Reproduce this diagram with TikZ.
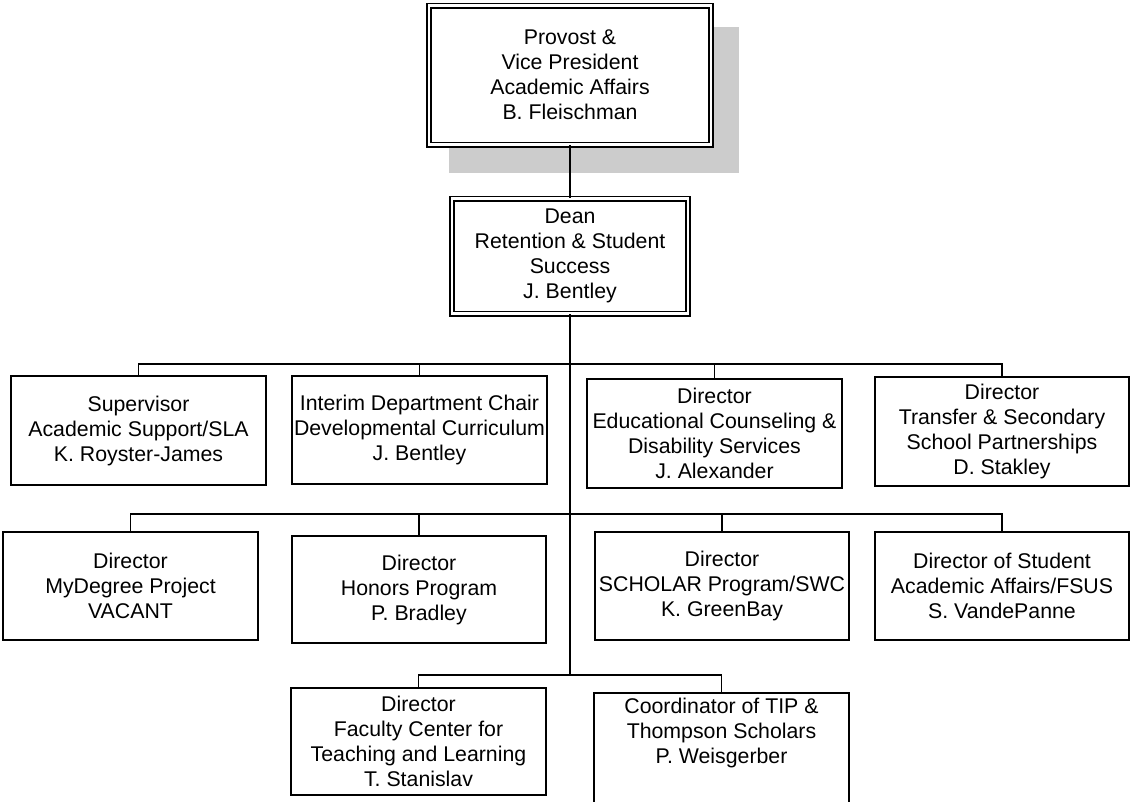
\documentclass[tikz,border=0pt]{standalone}
\usepackage{fontspec}
\setmainfont{Liberation Sans}
\definecolor{shadegray}{RGB}{204,204,204}
\begin{document}
\begin{tikzpicture}[x=1pt,y=-1pt,
  box/.style={draw=black, line width=1.4pt, fill=white, rectangle, align=center,
    inner sep=0pt, font=\fontsize{21.3}{25}\selectfont},
  dbox/.style={box, line width=1.6pt, double=white, double distance=2.8pt},
  txt/.style={align=center, inner sep=0pt, font=\fontsize{21.3}{25}\selectfont},
  conn/.style={draw=black, line width=1.5pt},
  trunk/.style={draw=black, line width=2.8pt}]
\useasboundingbox (0,0) rectangle (1130,801);

% shadow of the top box
\fill[shadegray] (449,27) rectangle (739,173);

\node[dbox, minimum width=282, minimum height=139] (prov) at (570,75)
  {Provost \&\\Vice President\\Academic Affairs\\B. Fleischman};
\node[dbox, minimum width=236, minimum height=115] (dean) at (570,256)
  {Dean\\Retention \& Student\\Success\\J. Bentley};

% row 1
\node[box, minimum width=255, minimum height=109] (b1) at (138.5,430.5)
  {Supervisor\\Academic Support/SLA\\K. Royster-James};
\node[box, minimum width=255, minimum height=108] (b2) at (419.5,430)
  {Interim Department Chair\\Developmental Curriculum\\J. Bentley};
\node[box, minimum width=255, minimum height=109] (b3) at (714.5,433.5)
  {Director\\Educational Counseling \&\\Disability Services\\J. Alexander};
\node[box, minimum width=254, minimum height=109] (b4) at (1002,431.5)
  {Director\\Transfer \& Secondary\\School Partnerships\\D. Stakley};

% row 2
\node[box, minimum width=255, minimum height=108] (b5) at (130.5,586)
  {Director\\MyDegree Project\\VACANT};
\node[box, minimum width=254, minimum height=107] (b6) at (419,589.5)
  {Director\\Honors Program\\P. Bradley};
\node[box, minimum width=254, minimum height=108] (b7) at (722,586)
  {Director\\SCHOLAR Program/SWC\\K. GreenBay};
\node[box, minimum width=254, minimum height=108] (b8) at (1002,586)
  {Director of Student\\Academic Affairs/FSUS\\S. VandePanne};

% row 3
\node[box, minimum width=255, minimum height=107] (b9) at (418.5,741.5)
  {Director\\Faculty Center for\\Teaching and Learning\\T. Stanislav};
\node[box, minimum width=255, minimum height=127] (b10) at (721.5,756.5) {};
\node[txt] (b10t) at (721.5,733)
  {Coordinator of TIP \&\\Thompson Scholars\\P. Weisgerber};

% connectors
\coordinate (r1) at (570,364);
\coordinate (r2) at (570,514);
\coordinate (r3) at (570,675);

\draw[conn] (prov.south) -- (dean.north);
\draw[trunk] (dean.south) -- (r3);

\draw[conn] (b1.north) |- (r1) -| (b4.north);
\draw[conn] (b2.north) -- (b2.north |- r1);
\draw[conn] (b3.north) -- (b3.north |- r1);

\draw[conn] (b5.north) |- (r2) -| (b8.north);
\draw[conn] (b6.north) -- (b6.north |- r2);
\draw[conn] (b7.north) -- (b7.north |- r2);

\draw[conn] (b9.north) |- (r3) -| (b10.north);
\end{tikzpicture}
\end{document}
